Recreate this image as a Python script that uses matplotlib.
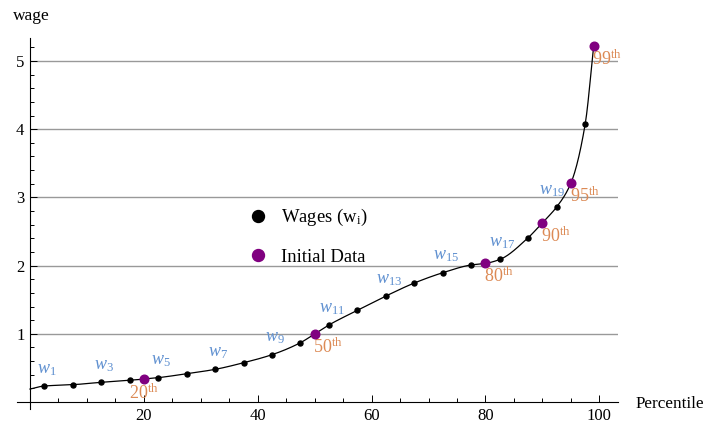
import numpy as np
from matplotlib import pyplot as plt
from matplotlib.lines import Line2D

plt.rcParams['font.family'] = ['Liberation Serif', 'DejaVu Serif']
plt.rcParams['mathtext.fontset'] = 'custom'
plt.rcParams['mathtext.rm'] = 'Liberation Serif'
plt.rcParams['mathtext.it'] = 'Liberation Serif:italic'

# wages w1..w20 at the midpoints of 5-percentile bins
wage_pct = [2.5, 7.5, 12.5, 17.5, 22.5, 27.5, 32.5, 37.5, 42.5, 47.5,
            52.5, 57.5, 62.5, 67.5, 72.5, 77.5, 82.5, 87.5, 92.5, 97.5]
wage_val = [0.235, 0.254, 0.289, 0.318, 0.357, 0.415, 0.479, 0.576, 0.694, 0.870,
            1.13, 1.345, 1.554, 1.745, 1.896, 2.01, 2.09, 2.41, 2.86, 4.07]
# initial data (percentile points)
init_pct = [20, 50, 80, 90, 95, 99]
init_val = [0.337, 1.0, 2.033, 2.63, 3.21, 5.22]
init_labels = ['20', '50', '80', '90', '95', '99']
curve_start = (0, 0.19)

blue = '#5f90d0'
orange = '#dc8a55'
purple = '#800080'


def pchip(x, y, xs):
    # monotone cubic hermite curve through the points
    x = np.asarray(x, float)
    y = np.asarray(y, float)
    h = np.diff(x)
    d = np.diff(y) / h
    m = np.zeros_like(y)
    for k in range(1, len(x) - 1):
        if d[k - 1] * d[k] > 0:
            w1 = 2 * h[k] + h[k - 1]
            w2 = h[k] + 2 * h[k - 1]
            m[k] = (w1 + w2) / (w1 / d[k - 1] + w2 / d[k])
    m[0] = d[0]
    m[-1] = d[-1]
    idx = np.clip(np.searchsorted(x, xs) - 1, 0, len(x) - 2)
    t = (xs - x[idx]) / h[idx]
    h00 = 2 * t**3 - 3 * t**2 + 1
    h10 = t**3 - 2 * t**2 + t
    h01 = -2 * t**3 + 3 * t**2
    h11 = t**3 - t**2
    return h00 * y[idx] + h10 * h[idx] * m[idx] + h01 * y[idx + 1] + h11 * h[idx] * m[idx + 1]


pts = sorted(zip([curve_start[0]] + wage_pct + init_pct, [curve_start[1]] + wage_val + init_val))
cx = [p[0] for p in pts]
cy = [p[1] for p in pts]
xs = np.linspace(cx[0], cx[-1], 800)

fig = plt.figure(figsize=(7.05, 4.25), dpi=100)
ax = fig.add_axes([0.024, 0.038, 0.852, 0.873])
xmax = 103.2
ax.set_xlim(-2.3, xmax)
ax.set_ylim(-0.1, 5.34)

ax.hlines([1, 2, 3, 4, 5], 0, xmax, color='#999999', lw=1, zorder=0)
ax.plot(xs, pchip(cx, cy, xs), color='black', lw=0.9, zorder=2)
ax.plot(wage_pct, wage_val, 'o', color='black', ms=3.6, zorder=3)
ax.plot(init_pct, init_val, 'o', color=purple, ms=6.2, zorder=4)

for i in range(0, 20, 2):
    off = (-3.5, 6) if i == 18 else (2, 6)
    ax.annotate(r'$\mathit{w}_{\mathrm{%d}}$' % (i + 1), (wage_pct[i], wage_val[i]),
                xytext=off, textcoords='offset points', ha='center', va='bottom',
                color=blue, fontsize=13)

for p, v, lab in zip(init_pct, init_val, init_labels):
    if lab == '20':
        off, ha = (0, -3), 'center'
    else:
        off, ha = (-1, -2.5), 'left'
    ax.annotate(r'$\mathrm{%s}^{\mathrm{th}}$' % lab, (p, v), xytext=off,
                textcoords='offset points', ha=ha, va='top', color=orange, fontsize=13)

for s in ['top', 'right']:
    ax.spines[s].set_visible(False)
ax.spines['left'].set_position(('data', 0))
ax.spines['bottom'].set_position(('data', 0))
ax.spines['left'].set_linewidth(0.8)
ax.spines['bottom'].set_linewidth(0.8)

ax.set_xticks([20, 40, 60, 80, 100])
ax.set_xticks(np.arange(5, 105, 5), minor=True)
ax.set_yticks([1, 2, 3, 4, 5])
ax.set_yticks(np.arange(0.2, 5.3, 0.2), minor=True)
ax.tick_params(which='both', direction='in', width=0.7, labelsize=12)
ax.tick_params(which='major', length=5, pad=4)
ax.tick_params(which='minor', length=3)

handles = [Line2D([], [], ls='none', marker='o', color='black', ms=8.6),
           Line2D([], [], ls='none', marker='o', color=purple, ms=8.6)]
fig.legend(handles, [r'Wages (w$_{\mathrm{i}}$)', 'Initial Data'], loc='center left',
           bbox_to_anchor=(0.34, 0.4435), frameon=False, fontsize=13.4,
           handlelength=1, handletextpad=0.7, labelspacing=1.1, borderpad=0)

fig.text(13 / 705, 1 - 16 / 425, 'wage', ha='left', va='center', fontsize=12.5)
fig.text(636 / 705, (425 - 404) / 425, 'Percentile', ha='left', va='center', fontsize=12.3)

fig.savefig('out.png', dpi=100)
